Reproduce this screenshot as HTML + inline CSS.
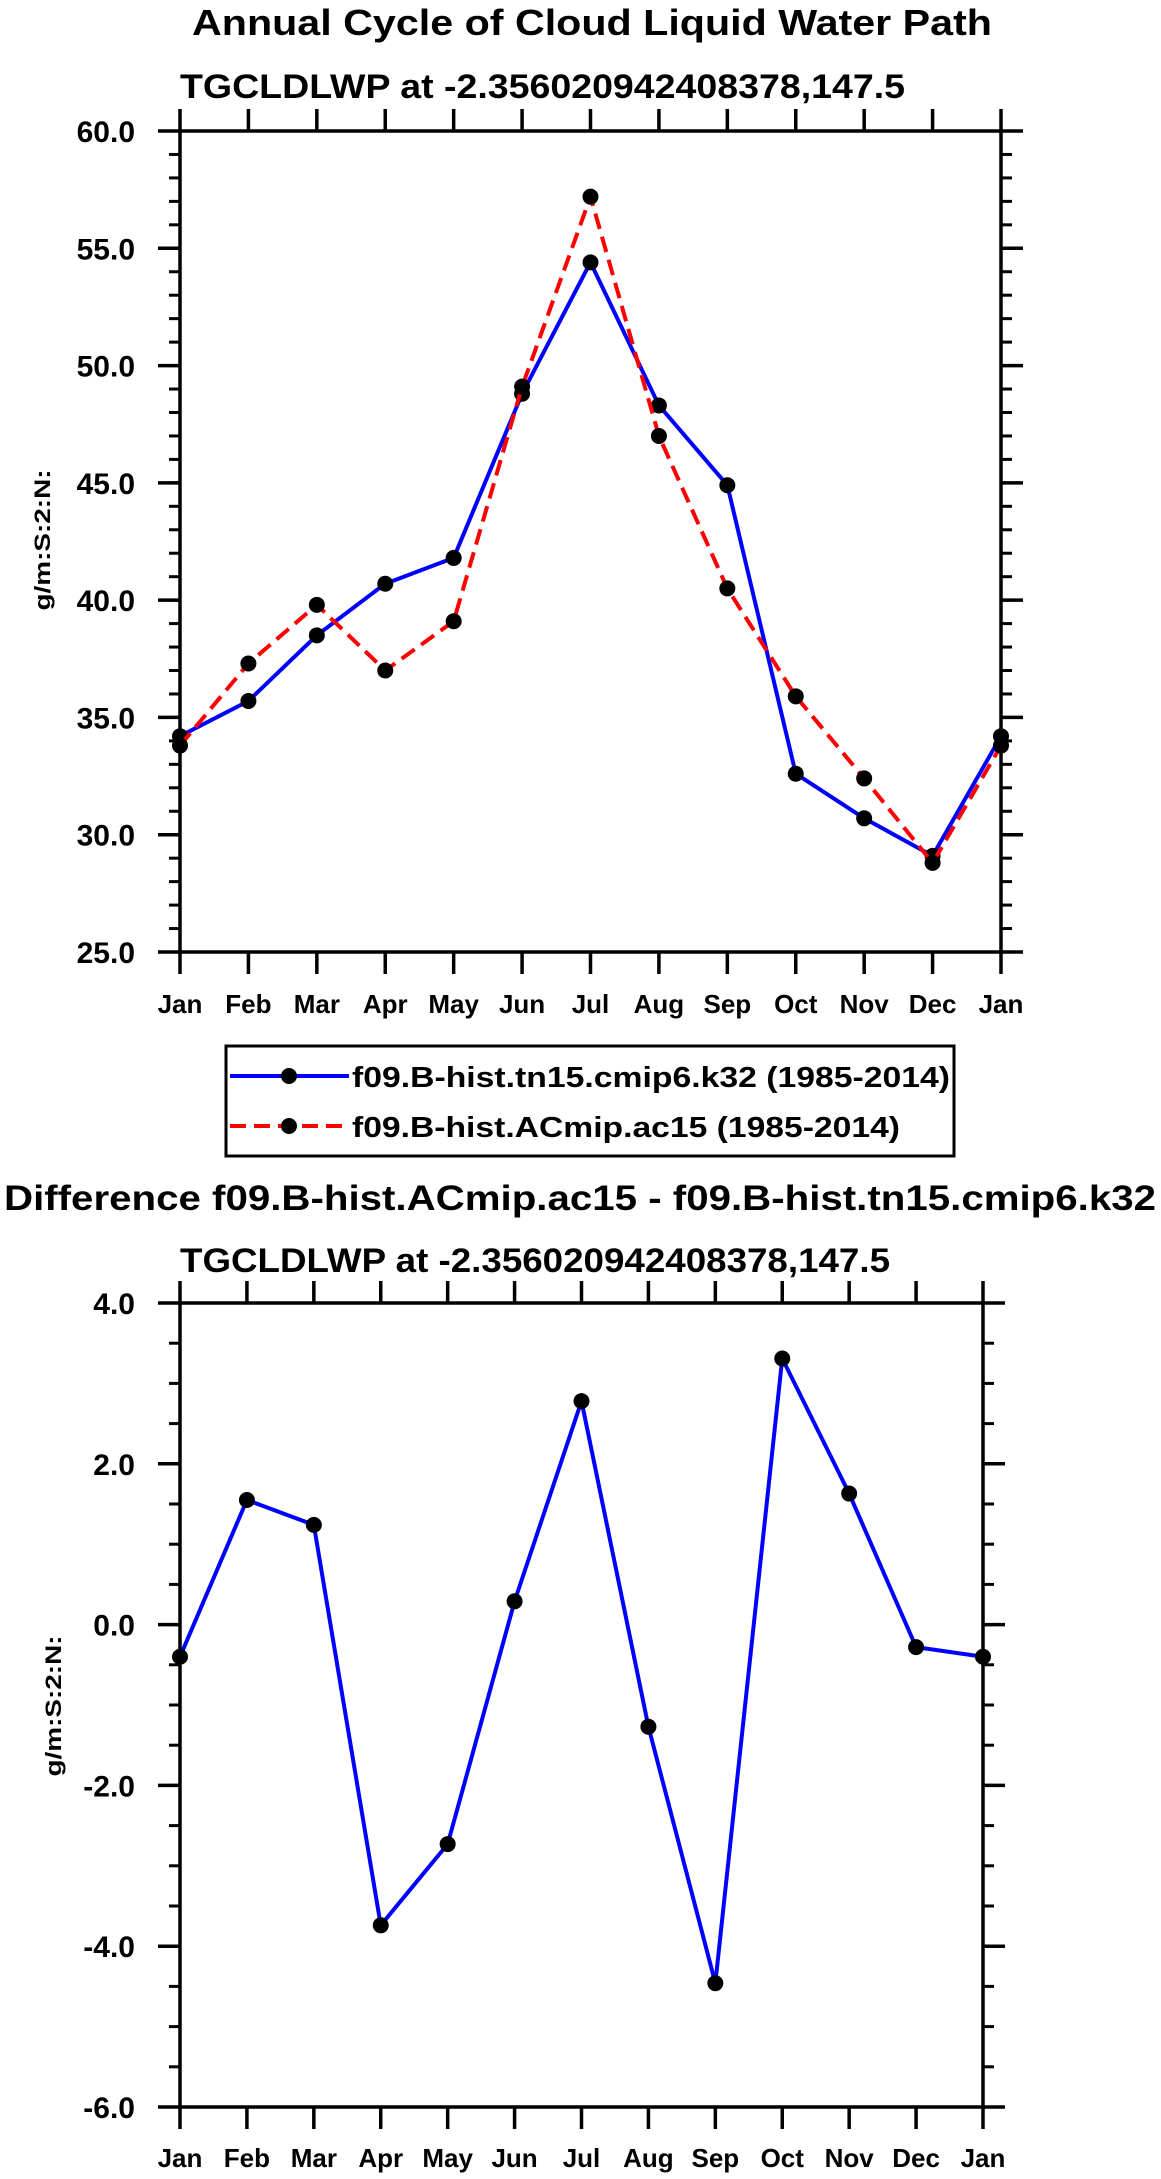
<!DOCTYPE html>
<html><head><meta charset="utf-8"><style>
html,body{margin:0;padding:0;background:#fff;}
svg{display:block;font-family:"Liberation Sans",Arial,sans-serif;font-weight:bold;}
</style></head><body>
<svg id="chart" width="1161" height="2179" viewBox="0 0 1161 2179" xmlns="http://www.w3.org/2000/svg">
<text x="192" y="35" font-size="36" textLength="800" lengthAdjust="spacingAndGlyphs">Annual Cycle of Cloud Liquid Water Path</text>
<text x="180" y="98" font-size="34" textLength="725" lengthAdjust="spacingAndGlyphs">TGCLDLWP at -2.356020942408378,147.5</text>
<g id="top"></g>
<g>
<rect x="226" y="1046" width="728" height="110" fill="#fff" stroke="#000" stroke-width="3"/>
<g>
<line x1="230" y1="1076" x2="349" y2="1076" stroke="#0000ff" stroke-width="4"/>
<circle cx="289" cy="1076" r="8" fill="#000"/>
<text x="352" y="1087" font-size="29" textLength="598" lengthAdjust="spacingAndGlyphs">f09.B-hist.tn15.cmip6.k32 (1985-2014)</text>
</g>
<g>
<line x1="230" y1="1126" x2="349" y2="1126" stroke="#ff0000" stroke-width="4" stroke-dasharray="16,8"/>
<circle cx="289" cy="1126" r="8" fill="#000"/>
<text x="352" y="1137" font-size="29" textLength="548" lengthAdjust="spacingAndGlyphs">f09.B-hist.ACmip.ac15 (1985-2014)</text>
</g>
</g>
<text x="4" y="1210" font-size="35" textLength="1152" lengthAdjust="spacingAndGlyphs">Difference f09.B-hist.ACmip.ac15 - f09.B-hist.tn15.cmip6.k32</text>
<text x="180" y="1272" font-size="34" textLength="710" lengthAdjust="spacingAndGlyphs">TGCLDLWP at -2.356020942408378,147.5</text>
<g id="bot"></g>
</svg>
<script>
const months = ["Jan","Feb","Mar","Apr","May","Jun","Jul","Aug","Sep","Oct","Nov","Dec","Jan"];
const k32Values = [34.2,35.7,38.5,40.7,41.8,48.8,54.4,48.3,44.9,32.6,30.7,29.1,34.2];
const ac15Values = [33.8,37.3,39.8,37.0,39.1,49.1,57.2,47.0,40.5,35.9,32.4,28.8,33.8];
const diffValues = [-0.4,1.55,1.24,-3.74,-2.73,0.29,2.78,-1.27,-4.46,3.31,1.63,-0.28,-0.4];
const topTicks = [25,30,35,40,45,50,55,60];
const topTickLabels = ["25.0","30.0","35.0","40.0","45.0","50.0","55.0","60.0"];
const botTicks = [-6,-4,-2,0,2,4];
const botTickLabels = ["-6.0","-4.0","-2.0","0.0","2.0","4.0"];

const NS="http://www.w3.org/2000/svg";
function mk(parent,tag,attrs){const e=document.createElementNS(NS,tag);for(const k in attrs)e.setAttribute(k,attrs[k]);parent.appendChild(e);return e;}

function plot(g,cfg){
  const {x0,x1,y0,y1,ymin,ymax,ticks,labels,minorStep,series,labelBase,ytitleX,ytitleY,ytitleLen}=cfg;
  const xs=i=>x0+(x1-x0)*i/(months.length-1);
  const ys=v=>y1-(v-ymin)/(ymax-ymin)*(y1-y0);
  const axes=mk(g,"g",{});
  
  
  for(let v=ymin;v<=ymax+1e-9;v+=minorStep){
    const y=ys(v);
    mk(axes,"line",{x1:x0-11,y1:y,x2:x0,y2:y,stroke:"#000","stroke-width":3});
    mk(axes,"line",{x1:x1,y1:y,x2:x1+11,y2:y,stroke:"#000","stroke-width":3});
  }
  ticks.forEach((v,i)=>{
    const y=ys(v);
    mk(axes,"line",{x1:x0-22,y1:y,x2:x0,y2:y,stroke:"#000","stroke-width":3.5});
    mk(axes,"line",{x1:x1,y1:y,x2:x1+22,y2:y,stroke:"#000","stroke-width":3.5});
    const t=mk(axes,"text",{x:135,y:y+11,"font-size":30,"text-anchor":"end"});
    
    
    t.textContent=labels[i];
  });
  months.forEach((m,i)=>{
    const x=xs(i);
    mk(axes,"line",{x1:x,y1:y0-22,x2:x,y2:y0,stroke:"#000","stroke-width":3.5});
    mk(axes,"line",{x1:x,y1:y1,x2:x,y2:y1+22,stroke:"#000","stroke-width":3.5});
    const t=mk(axes,"text",{x:x,y:labelBase,"font-size":26,"text-anchor":"middle"});
    
    
    t.textContent=m;
  });
  mk(axes,"rect",{x:x0,y:y0,width:x1-x0,height:y1-y0,fill:"none",stroke:"#000","stroke-width":3.5});
  const yt=mk(g,"text",{x:0,y:0,"font-size":22,"text-anchor":"middle",transform:`translate(${ytitleX},${ytitleY}) rotate(-90)`,textLength:ytitleLen,lengthAdjust:"spacingAndGlyphs"});
  
  
  yt.textContent="g/m:S:2:N:";
  series.forEach(s=>{
    const sg=mk(g,"g",{});
    
    
    const pts=s.vals.map((v,i)=>xs(i)+","+ys(v)).join(" ");
    const pl=mk(sg,"polyline",{points:pts,fill:"none",stroke:s.color,"stroke-width":4,"stroke-linejoin":"round"});
    if(s.dash)pl.setAttribute("stroke-dasharray",s.dash);
    s.vals.forEach((v,i)=>{
      const c=mk(sg,"circle",{cx:xs(i),cy:ys(v),r:8,fill:"#000"});
      
      
    });
  });
}
plot(document.getElementById("top"),{x0:180,x1:1001,y0:131,y1:952,ymin:25,ymax:60,ticks:topTicks,labels:topTickLabels,minorStep:1,
  labelBase:1013,ytitleX:50,ytitleY:540,ytitleLen:141,
  series:[{name:"series-k32",vals:k32Values,color:"#0000ff"},{name:"series-ac15",vals:ac15Values,color:"#ff0000",dash:"16,8"}]});
plot(document.getElementById("bot"),{x0:180,x1:983,y0:1303,y1:2107,ymin:-6,ymax:4,ticks:botTicks,labels:botTickLabels,minorStep:0.5,
  labelBase:2167,ytitleX:61,ytitleY:1706,ytitleLen:141,
  series:[{name:"series-difference",vals:diffValues,color:"#0000ff"}]});
</script>
</body></html>
